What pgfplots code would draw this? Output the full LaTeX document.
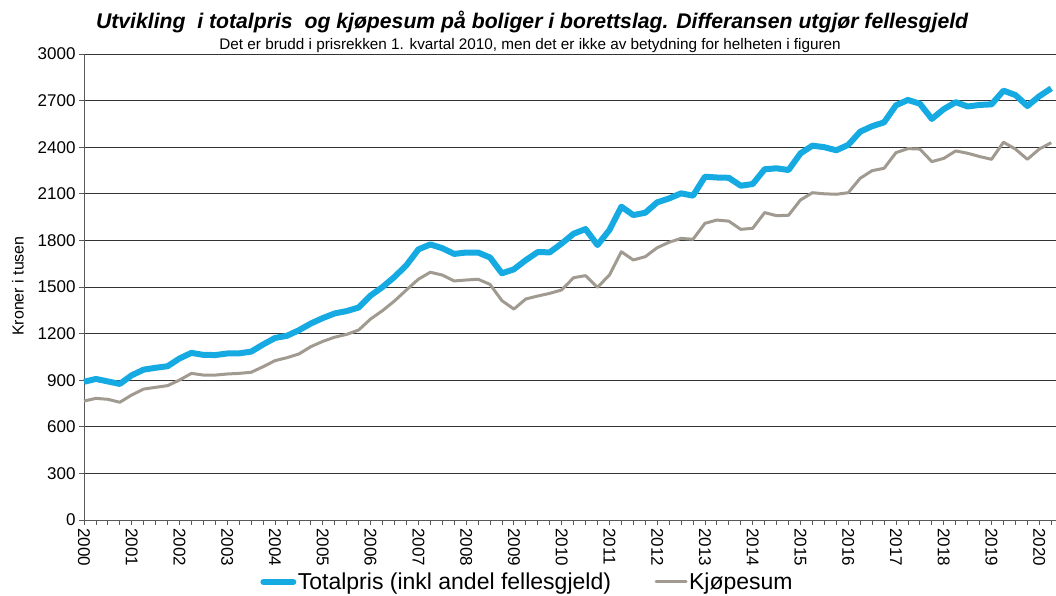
\documentclass[border=0pt]{standalone}
\usepackage{pgfplots}
\pgfplotsset{compat=1.18}
\usepackage{pgfplotstable}
\usepackage{fontspec}
\setmainfont{Liberation Sans}
\definecolor{tblue}{RGB}{22,170,226}
\definecolor{kgray}{RGB}{160,154,144}
\pgfplotstableread{
i tot kjop
0 890 766
1 908 783
2 892 777
3 876 758
4 932 805
5 968 843
6 980 854
7 990 865
8 1040 901
9 1076 944
10 1063 933
11 1062 933
12 1072 940
13 1073 944
14 1084 951
15 1130 987
16 1172 1026
17 1186 1045
18 1222 1069
19 1265 1116
20 1300 1150
21 1330 1177
22 1345 1195
23 1368 1223
24 1445 1294
25 1500 1348
26 1565 1410
27 1640 1481
28 1742 1550
29 1774 1595
30 1750 1577
31 1713 1539
32 1722 1545
33 1722 1550
34 1690 1517
35 1588 1412
36 1614 1358
37 1673 1423
38 1725 1442
39 1723 1459
40 1780 1481
41 1843 1560
42 1873 1573
43 1770 1498
44 1867 1577
45 2017 1727
46 1963 1674
47 1978 1695
48 2045 1753
49 2070 1788
50 2103 1813
51 2088 1807
52 2210 1910
53 2205 1931
54 2203 1924
55 2152 1871
56 2163 1878
57 2258 1979
58 2264 1959
59 2253 1962
60 2360 2060
61 2410 2107
62 2400 2100
63 2380 2097
64 2415 2107
65 2500 2200
66 2535 2249
67 2560 2264
68 2670 2365
69 2704 2391
70 2680 2388
71 2582 2307
72 2645 2328
73 2690 2376
74 2662 2361
75 2672 2340
76 2676 2322
77 2764 2432
78 2736 2388
79 2665 2322
80 2728 2388
81 2779 2429
}\data
\begin{document}
\begin{tikzpicture}
\begin{axis}[
  name=ax,
  scale only axis,
  width=972pt, height=466pt,
  xmin=0, xmax=81.4,
  ymin=0, ymax=3000,
  clip=false,
  axis x line*=bottom, axis y line*=left,
  axis line style={black!65, line width=0.8pt},
  ytick={0,300,...,3000},
  xtick={0,4,...,80},
  minor xtick={0,1,...,81},
  xticklabels={2000,2001,2002,2003,2004,2005,2006,2007,2008,2009,2010,2011,2012,2013,2014,2015,2016,2017,2018,2019,2020},
  xticklabel style={rotate=-90, anchor=west, font=\fontsize{17}{20}\selectfont},
  yticklabel style={font=\fontsize{17}{20}\selectfont},
  /pgf/number format/assume math mode=true,
  /pgf/number format/1000 sep={},
  tick align=outside,
  major tick length=5pt, minor tick length=5pt,
  tick style={black!65, line width=0.8pt},
  ymajorgrids,
  major grid style={black!80, line width=0.8pt},
  legend style={at={(rel axis cs:0.456,-0.133)}, anchor=center, draw=none, fill=none,
    font=\fontsize{23}{26}\selectfont,
    nodes={inner xsep=1.5pt},
    /tikz/every even column/.append style={column sep=42pt}},
  legend columns=2,
  legend cell align=left,
  legend image code/.code={\draw[#1, line cap=round] (0pt,0pt) -- (30pt,0pt);},
]
\addplot[tblue, line width=6pt, line join=round] table[x=i, y=tot] {\data};
\addlegendentry{Totalpris (inkl andel fellesgjeld)}
\addplot[kgray, line width=3pt, line join=round] table[x=i, y=kjop] {\data};
\addlegendentry{Kjøpesum}
\coordinate (O) at (rel axis cs:0,0);
\node[font=\fontsize{21.2}{25}\selectfont\bfseries\itshape] at (rel axis cs:0.461,1.069) {Utvikling\ \ i totalpris\ \ og kjøpesum på boliger i borettslag. Differansen utgjør fellesgjeld};
\node[font=\fontsize{15.3}{18}\selectfont] at (rel axis cs:0.459,1.019) {Det er brudd i prisrekken 1. kvartal 2010, men det er ikke av betydning for helheten i figuren};
\node[rotate=90, font=\fontsize{16}{19}\selectfont] at ([xshift=-66pt]rel axis cs:0,0.502) {Kroner i tusen};
\end{axis}
\pgfresetboundingbox
\path[use as bounding box] ([shift={(-84pt,-75pt)}]O) rectangle ([shift={(972pt,520pt)}]O);
\end{tikzpicture}
\end{document}
